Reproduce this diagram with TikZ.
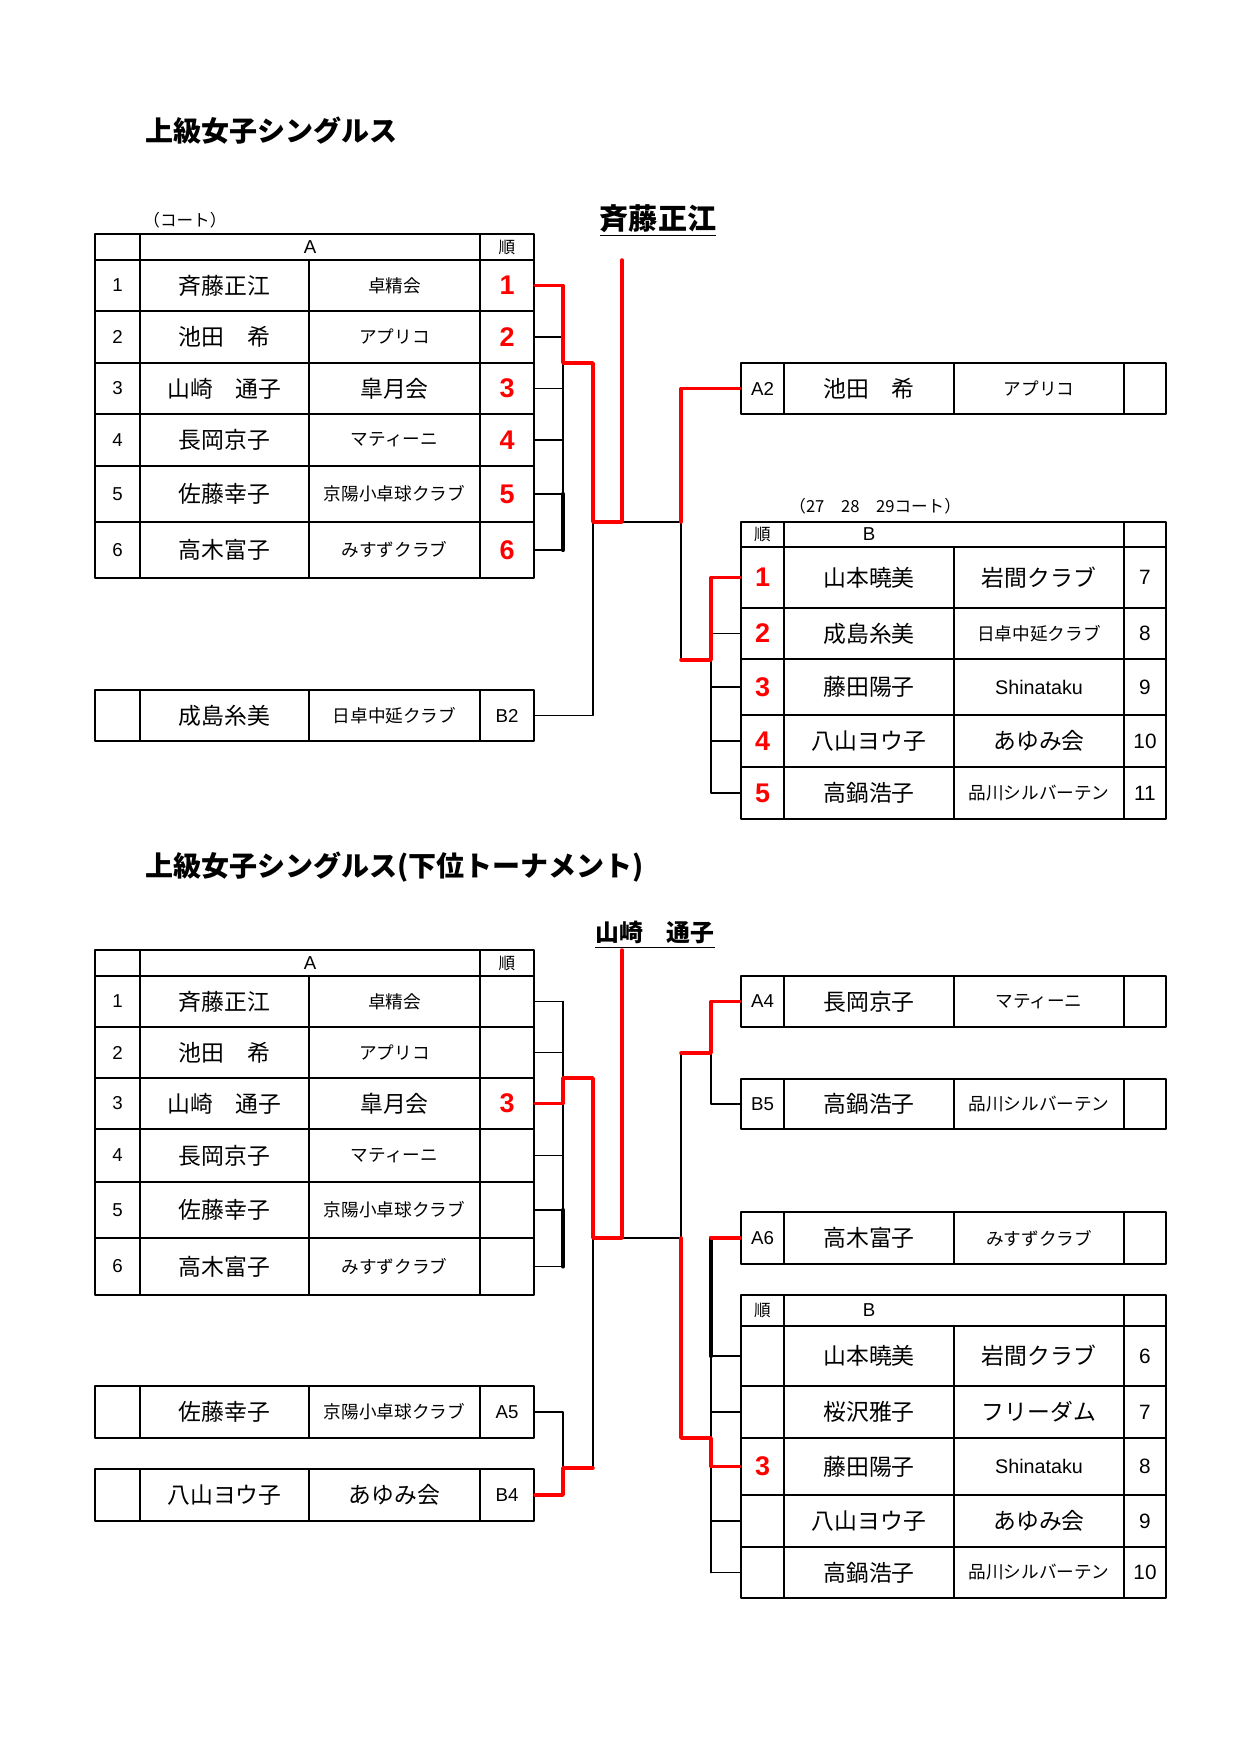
\documentclass[tikz,border=0pt]{standalone}
\usepackage{fontspec}
\setmainfont{Liberation Sans}
\newfontfamily\jp{Noto Sans CJK JP}
\usetikzlibrary{calc}

\newcommand{\pxl}{0.16933mm}
% left table row: name, top, bottom, no., player, club style, club, rank style, rank
\newcommand{\lrow}[9]{%
\node[cell, num, minimum width=45*\pxl, minimum height={(#3-#2)*\pxl}] (#1n) at (117.5,{(#2+#3)/2}) {#4};
\node[cell, pname, minimum width=169*\pxl, minimum height={(#3-#2)*\pxl}] (#1p) at (224.5,{(#2+#3)/2}) {#5};
\node[cell, #6, minimum width=171*\pxl, minimum height={(#3-#2)*\pxl}] (#1c) at (394.5,{(#2+#3)/2}) {#7};
\node[cell, #8, minimum width=54*\pxl, minimum height={(#3-#2)*\pxl}] (#1r) at (507,{(#2+#3)/2}) {#9};}
% right table row: name, top, bottom, first style, first, player, club style, club, court
\newcommand{\rrow}[9]{%
\node[cell, #4, minimum width=43*\pxl, minimum height={(#3-#2)*\pxl}] (#1n) at (762.5,{(#2+#3)/2}) {#5};
\node[cell, pname, minimum width=170*\pxl, minimum height={(#3-#2)*\pxl}] (#1p) at (869,{(#2+#3)/2}) {#6};
\node[cell, #7, minimum width=170*\pxl, minimum height={(#3-#2)*\pxl}] (#1c) at (1039,{(#2+#3)/2}) {#8};
\node[cell, bnum, minimum width=42*\pxl, minimum height={(#3-#2)*\pxl}] (#1s) at (1145,{(#2+#3)/2}) {#9};}

\begin{document}
\begin{tikzpicture}[line cap=round,line join=round,x=0.16933mm,y=-0.16933mm,
  cell/.style={draw, line width=1pt, inner sep=0pt},
  num/.style={font=\fontsize{9}{9}\selectfont},
  bnum/.style={font=\fontsize{10}{10}\selectfont},
  pname/.style={font=\jp\fontsize{11}{11}\selectfont},
  bigclub/.style={font=\jp\fontsize{11}{11}\selectfont},
  smallclub/.style={font=\jp\fontsize{8.5}{8.5}\selectfont},
  latinclub/.style={font=\fontsize{9.5}{9.5}\selectfont},
  rank/.style={font=\bfseries\fontsize{13}{13}\selectfont, text=red},
  hdr/.style={font=\fontsize{9}{9}\selectfont},
  jun/.style={font=\jp\fontsize{8}{8}\selectfont},
  court/.style={font=\jp\fontsize{8}{8}\selectfont, anchor=west, inner sep=0pt},
  title/.style={font=\jp\bfseries\fontsize{13.5}{13.5}\selectfont, anchor=west, inner sep=0pt},
  winner/.style={font=\jp\bfseries\fontsize{14}{14}\selectfont, inner sep=0pt},
  conn/.style={line width=0.9pt},
  thickconn/.style={line width=2pt},
  win/.style={line width=1.7pt, red}]

\useasboundingbox (0,0) rectangle (1240,1754);

%% upper tournament
\node[title] (utitle) at (145,131) {上級女子シングルス};
\node[court] (ucourt) at (143,220) {（コート）};
\node[winner] (uwin) at (658,221) {\underline{斉藤正江}};

\node[cell, minimum width=45*\pxl, minimum height=26*\pxl] (uAh0) at (117.5,247) {};
\node[cell, hdr, minimum width=340*\pxl, minimum height=26*\pxl] (uAhA) at (310,247) {A};
\node[cell, jun, minimum width=54*\pxl, minimum height=26*\pxl] (uAhr) at (507,247) {順};
\lrow{uA1}{260}{311}{1}{斉藤正江}{smallclub}{卓精会}{rank}{1}
\lrow{uA2}{311}{363}{2}{池田　希}{smallclub}{アプリコ}{rank}{2}
\lrow{uA3}{363}{414}{3}{山崎　通子}{bigclub}{皐月会}{rank}{3}
\lrow{uA4}{414}{466}{4}{長岡京子}{smallclub}{マティーニ}{rank}{4}
\lrow{uA5}{466}{522}{5}{佐藤幸子}{smallclub}{京陽小卓球クラブ}{rank}{5}
\lrow{uA6}{522}{578}{6}{高木富子}{smallclub}{みすずクラブ}{rank}{6}
\lrow{ub}{690}{741}{}{成島糸美}{smallclub}{日卓中延クラブ}{num}{B2}

\rrow{ua}{363}{414}{num}{A2}{池田　希}{smallclub}{アプリコ}{}
\node[court] (ucourtB) at (789,506) {（27　28　29コート）};
\node[cell, jun, minimum width=43*\pxl, minimum height=25*\pxl] (uBhr) at (762.5,534.5) {順};
\node[cell, minimum width=340*\pxl, minimum height=25*\pxl] (uBhB) at (954,534.5) {};
\node[hdr] (uBlab) at (869,534.5) {B};
\node[cell, minimum width=42*\pxl, minimum height=25*\pxl] (uBhs) at (1145,534.5) {};
\rrow{uB1}{547}{608}{rank}{1}{山本曉美}{bigclub}{岩間クラブ}{7}
\rrow{uB2}{608}{659}{rank}{2}{成島糸美}{smallclub}{日卓中延クラブ}{8}
\rrow{uB3}{659}{715}{rank}{3}{藤田陽子}{latinclub}{Shinataku}{9}
\rrow{uB4}{715}{767}{rank}{4}{八山ヨウ子}{bigclub}{あゆみ会}{10}
\rrow{uB5}{767}{819}{rank}{5}{高鍋浩子}{smallclub}{品川シルバーテン}{11}

\coordinate (uj1) at (563,363);
\coordinate (uj2) at (593,522);
\coordinate (uw) at (622,260);
\coordinate (uj3) at (681,522);
\coordinate (uj4) at (711,660);

\draw[conn] (uA2r.east) -- (uA2r.east -| uj1);
\draw[conn] (uA3r.east) -- (uA3r.east -| uj1);
\draw[conn] (uA4r.east) -- (uA4r.east -| uj1);
\draw[conn] (uA5r.east) -- (uA5r.east -| uj1);
\draw[conn] (uA6r.east) -- (uA6r.east -| uj1);
\draw[conn] (uA1r.east -| uj1) -- (uA6r.east -| uj1);
\draw[thickconn] (uA5r.east -| uj1) -- (uA6r.east -| uj1);
\draw[conn] (ubr.east) -| (uj2);
\draw[conn] (uw |- uj2) -- (uj3) -- (uj3 |- uj4);
\draw[conn] (uj4) |- (uB5n.west);
\draw[conn] (uB2n.west) -- (uB2n.west -| uj4);
\draw[conn] (uB3n.west) -- (uB3n.west -| uj4);
\draw[conn] (uB4n.west) -- (uB4n.west -| uj4);

\draw[win] (uA1r.east) -| (uj1) -| (uj2) -| (uw);
\draw[win] (uj3) |- (uan.west);
\draw[win] (uB1n.west) -| (uj4) -- (uj3 |- uj4);

%% lower tournament
\node[title] (dtitle) at (145,867) {上級女子シングルス(下位トーナメント)};
\node[winner, font=\jp\bfseries\fontsize{11.5}{11.5}\selectfont] (dwin) at (655,935) {\underline{山崎　通子}};

\node[cell, minimum width=45*\pxl, minimum height=26*\pxl] (dAh0) at (117.5,963) {};
\node[cell, hdr, minimum width=340*\pxl, minimum height=26*\pxl] (dAhA) at (310,963) {A};
\node[cell, jun, minimum width=54*\pxl, minimum height=26*\pxl] (dAhr) at (507,963) {順};
\lrow{dA1}{976}{1027}{1}{斉藤正江}{smallclub}{卓精会}{rank}{}
\lrow{dA2}{1027}{1078}{2}{池田　希}{smallclub}{アプリコ}{rank}{}
\lrow{dA3}{1078}{1129}{3}{山崎　通子}{bigclub}{皐月会}{rank}{3}
\lrow{dA4}{1129}{1182}{4}{長岡京子}{smallclub}{マティーニ}{rank}{}
\lrow{dA5}{1182}{1238}{5}{佐藤幸子}{smallclub}{京陽小卓球クラブ}{rank}{}
\lrow{dA6}{1238}{1295}{6}{高木富子}{smallclub}{みすずクラブ}{rank}{}
\lrow{da5}{1386}{1438}{}{佐藤幸子}{smallclub}{京陽小卓球クラブ}{num}{A5}
\lrow{db4}{1469}{1521}{}{八山ヨウ子}{bigclub}{あゆみ会}{num}{B4}

\rrow{da4}{976}{1027}{num}{A4}{長岡京子}{smallclub}{マティーニ}{}
\rrow{db5}{1079}{1129}{num}{B5}{高鍋浩子}{smallclub}{品川シルバーテン}{}
\rrow{da6}{1212}{1264}{num}{A6}{高木富子}{smallclub}{みすずクラブ}{}
\node[cell, jun, minimum width=43*\pxl, minimum height=31*\pxl] (dBhr) at (762.5,1310.5) {順};
\node[cell, minimum width=340*\pxl, minimum height=31*\pxl] (dBhB) at (954,1310.5) {};
\node[hdr] (dBlab) at (869,1310.5) {B};
\node[cell, minimum width=42*\pxl, minimum height=31*\pxl] (dBhs) at (1145,1310.5) {};
\rrow{dB1}{1326}{1386}{rank}{}{山本曉美}{bigclub}{岩間クラブ}{6}
\rrow{dB2}{1386}{1438}{rank}{}{桜沢雅子}{bigclub}{フリーダム}{7}
\rrow{dB3}{1438}{1495}{rank}{3}{藤田陽子}{latinclub}{Shinataku}{8}
\rrow{dB4}{1495}{1547}{rank}{}{八山ヨウ子}{bigclub}{あゆみ会}{9}
\rrow{dB5}{1547}{1598}{rank}{}{高鍋浩子}{smallclub}{品川シルバーテン}{10}

\coordinate (dj1) at (563,1078);
\coordinate (dj2) at (593,1238);
\coordinate (dw) at (622,950);
\coordinate (dj3) at (681,1238);
\coordinate (dj4) at (711,1053);
\coordinate (dj5) at (681,1053);
\coordinate (dj6) at (711,1438);
\coordinate (dj7) at (563,1468);

\draw[conn] (dA1r.east) -- (dA1r.east -| dj1);
\draw[conn] (dA2r.east) -- (dA2r.east -| dj1);
\draw[conn] (dA4r.east) -- (dA4r.east -| dj1);
\draw[conn] (dA5r.east) -- (dA5r.east -| dj1);
\draw[conn] (dA6r.east) -- (dA6r.east -| dj1);
\draw[conn] (dA1r.east -| dj1) -- (dA6r.east -| dj1);
\draw[thickconn] (dA5r.east -| dj1) -- (dA6r.east -| dj1);
\draw[conn] (dj2) -- (dj2 |- dj7);
\draw[conn] (da5r.east) -| (dj7);
\draw[conn] (dw |- dj2) -- (dj3) -- (dj5);
\draw[conn] (dj4) |- (db5n.west);
\draw[thickconn] (da6n.west -| dj4) -- (dB1n.west -| dj4);
\draw[conn] (dB1n.west -| dj4) -- (dB5n.west -| dj4);
\draw[conn] (dB1n.west) -- (dB1n.west -| dj4);
\draw[conn] (dB2n.west) -- (dB2n.west -| dj4);
\draw[conn] (dB4n.west) -- (dB4n.west -| dj4);
\draw[conn] (dB5n.west) -- (dB5n.west -| dj4);

\draw[win] (dA3r.east) -| (dj1) -| (dj2) -| (dw);
\draw[win] (db4r.east) -| (dj7) -- (dj7 -| dj2);
\draw[win] (dj5) -- (dj4) |- (da4n.west);
\draw[win] (dj3) |- (dj6) |- (dB3n.west);
\draw[win] (da6n.west) -- (da6n.west -| dj4);
\end{tikzpicture}
\end{document}
